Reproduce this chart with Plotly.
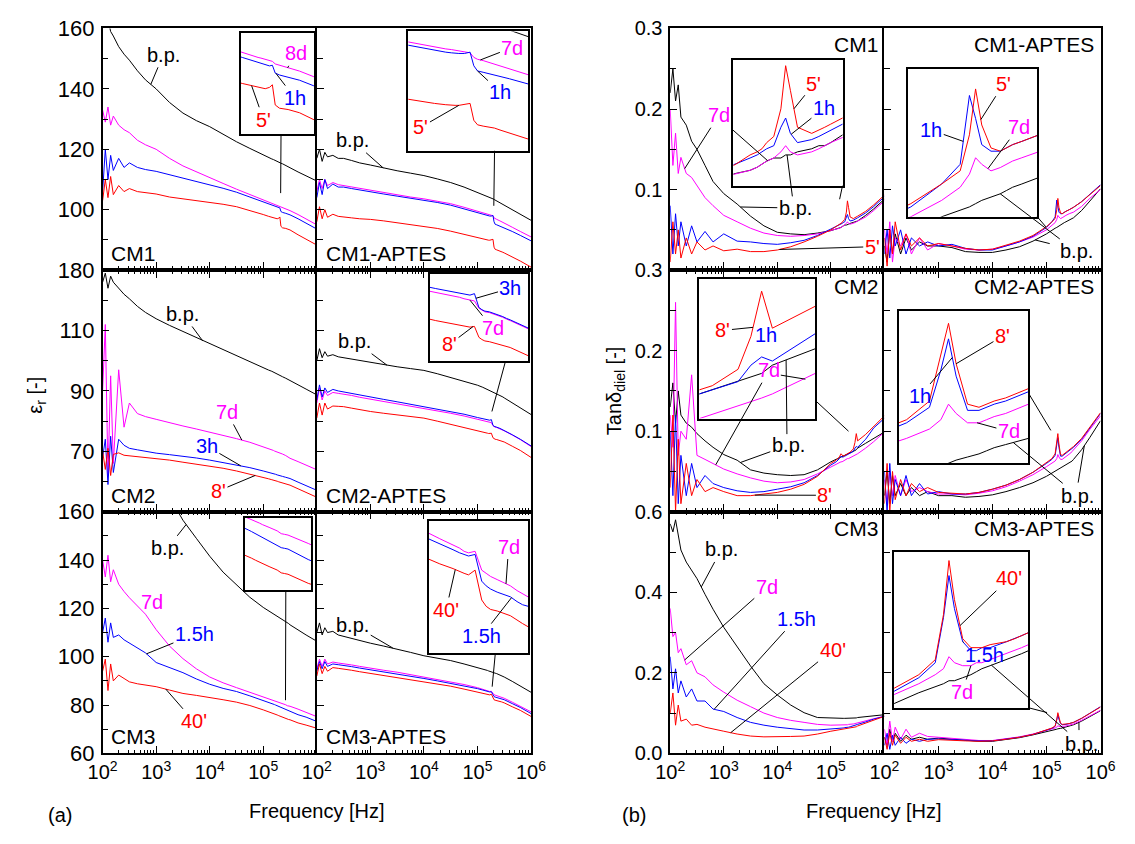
import numpy as np
import plotly.graph_objects as go

W, H = 1135, 844

# ---------------- data (log10 of frequency in Hz) ----------------
LOGF = [2.0, 2.05, 2.1, 2.15, 2.2, 2.3, 2.4, 2.5, 2.65, 2.8, 3.0, 3.25, 3.5, 3.75, 4.0, 4.25, 4.5, 4.75,
        5.0, 5.1, 5.16, 5.19, 5.21, 5.23, 5.26, 5.29, 5.31, 5.33, 5.36, 5.42, 5.45, 5.475, 5.5, 5.65, 5.8, 6.0]
FREQ = [10 ** v for v in LOGF]

# (a) permittivity
A1_BP = [163, 161, 163, 159, 157.5, 154, 151.5, 149.5, 146, 143, 140, 135.5, 132, 129.5, 127.5, 125, 122.5, 120.3, 118, 117.2, 116.8, 116.6, 116.4, 116.3, 116.0, 115.8, 115.6, 115.4, 115.2, 114.7, 114.4, 114.2, 113.9, 112.5, 111.2, 109.5]
A1_8D = [133, 129, 134, 128, 131, 128, 126.5, 125.5, 123, 121.5, 120, 117, 114.5, 112.5, 110.6, 108.7, 106.8, 105, 103.2, 102.5, 102.1, 101.9, 101.8, 101.7, 101.5, 101.3, 101.2, 100.8, 100.6, 100.2, 100.0, 99.85, 99.7, 98.4, 97, 95]
A1_1H = [106, 120, 110, 118, 113, 117, 114, 115.5, 114, 113.3, 112.7, 111.6, 110.6, 109.5, 108.4, 107.1, 105.8, 104.2, 102.5, 101.8, 101.4, 101.2, 101.0, 100.9, 100.7, 100.5, 100.6, 99.4, 99.1, 98.8, 98.6, 98.45, 98.3, 97, 95.6, 93.6]
A1_5M = [103, 110, 104, 111, 105, 108, 106, 107, 106, 105.6, 105.2, 104.2, 103.6, 103, 102.5, 101.8, 101, 99.8, 98.4, 97.8, 97.5, 97.3, 97.2, 97.1, 97.0, 97.2, 97.6, 94.5, 94.0, 93.8, 93.6, 93.45, 93.3, 91.7, 90.2, 88.3]

A2_BP = [117, 120, 116, 119, 117.5, 118, 117, 117, 116.3, 115.5, 114.8, 113.8, 112.9, 112.1, 111.3, 110.2, 109, 107.5, 105.8, 105.1, 104.6, 104.4, 104.2, 104.1, 103.8, 103.6, 103.4, 103.2, 103, 102.4, 102.1, 101.85, 101.6, 100, 98.5, 96.5]
A2_7D = [106, 110, 107, 110, 108, 109, 108.3, 108, 107.5, 107, 106.4, 105.6, 104.9, 104.2, 103.6, 102.9, 102, 100.8, 99.4, 98.9, 98.6, 98.5, 98.4, 98.3, 98.2, 98.0, 97.3, 97.0, 96.8, 96.3, 96.0, 95.8, 95.6, 94.2, 92.8, 91]
A2_1H = [104, 109, 105, 110, 107, 108.5, 107.5, 107.5, 107, 106.5, 106, 105.2, 104.5, 103.8, 103.2, 102.4, 101.5, 100.3, 98.9, 98.4, 98.1, 98.0, 97.9, 97.9, 97.9, 98.1, 96.0, 95.2, 95.0, 94.6, 94.35, 94.15, 94.0, 92.8, 91.5, 89.7]
A2_5M = [96, 101, 97, 100, 97.5, 98.5, 97.8, 97.7, 97.3, 97, 96.8, 96.3, 95.7, 95.1, 94.5, 93.8, 92.9, 91.8, 90.6, 90.2, 90.0, 89.9, 89.9, 89.9, 90.0, 90.2, 87.6, 86.9, 86.7, 86.4, 86.1, 85.9, 85.7, 84.4, 83, 81]

A3_BP = [126, 129, 124, 128, 126, 124, 122, 120.5, 118, 116, 113.9, 111.7, 109.7, 107.5, 105.5, 103.5, 101.6, 99.7, 97.7, 96.9, 96.5, 96.2, 96.0, 95.9, 95.6, 95.3, 95.1, 95.0, 94.7, 94.2, 93.9, 93.7, 93.5, 92, 90.6, 88.7]
A3_7D = [90, 112, 62, 95, 66, 97, 78, 86, 82.5, 81.5, 80.6, 79.4, 78.4, 77.4, 76.4, 75.3, 74.2, 73, 71.6, 71, 70.5, 70.3, 70.1, 70, 69.8, 69.6, 69.5, 69.3, 69.1, 68.6, 68.3, 68.0, 67.7, 66.6, 65.5, 63.9]
A3_3H = [68, 74, 59, 75, 63, 74, 72, 71, 70.5, 70, 69.4, 68.9, 68.4, 67.8, 67.1, 66.3, 65.5, 64.6, 63.5, 63.1, 62.8, 62.6, 62.5, 62.4, 62.2, 62.1, 62.0, 61.9, 61.7, 61.4, 61.25, 61.1, 61.0, 59.8, 58.7, 57.1]
A3_8M = [70, 64, 71, 62, 69, 69.5, 68.7, 68.5, 68.2, 68, 67.7, 67.1, 66.4, 65.8, 65.2, 64.4, 63.5, 62.5, 61.3, 60.9, 60.6, 60.5, 60.4, 60.3, 60.1, 59.9, 59.8, 59.7, 59.5, 59.2, 59.05, 58.9, 58.8, 57.6, 56.4, 54.8]

A4_BP = [100, 104, 101, 103, 101.5, 102, 101.3, 101, 100.5, 100, 99.4, 98.7, 98, 97.4, 96.8, 95.7, 94.5, 93.3, 91.9, 91.2, 90.7, 90.5, 90.3, 90.2, 90.0, 89.8, 89.6, 89.4, 89.2, 88.6, 88.3, 88.0, 87.7, 86.1, 84.6, 82.2]
A4_7D = [86, 91, 87, 90, 88.5, 89.5, 89.2, 89, 88.5, 87.9, 87.3, 86.5, 85.8, 85, 84.2, 83.4, 82.6, 81.7, 80.7, 80.3, 80.0, 79.8, 79.7, 79.6, 79.5, 78.5, 78.2, 78.0, 77.9, 77.5, 77.25, 77.0, 76.8, 75.4, 73.9, 71.6]
A4_3H = [87, 92, 88, 91, 89.5, 90.5, 90, 89.7, 89.2, 88.6, 88, 87.2, 86.4, 85.6, 84.8, 84, 83.2, 82.3, 81.2, 80.8, 80.5, 80.4, 80.3, 80.3, 80.5, 78.6, 78.3, 78.1, 78.0, 77.6, 77.35, 77.1, 76.9, 75.5, 74, 71.8]
A4_8M = [81, 86, 82, 86, 84, 85, 84.9, 84.8, 84.3, 83.8, 83.2, 82.6, 82, 81.5, 81, 80, 79, 78, 76.8, 76.4, 76.2, 76.0, 75.9, 75.9, 76.0, 74.5, 74.2, 74.0, 73.9, 73.6, 73.4, 73.25, 73.1, 71.7, 70.3, 68]

A5_BP = [None, None, None, None, None, None, None, None, None, None, None, 166, 156.5, 149, 141.6, 135, 129.6, 124.6, 120.4, 119, 118.2, 117.8, 117.5, 117.2, 116.8, 116.4, 116.1, 115.9, 115.5, 114.7, 114.2, 113.7, 113.2, 111, 109, 106.4]
A5_7D = [140, 133, 142, 131, 136, 130, 127, 124.4, 121, 117.6, 111.2, 104.4, 99.2, 95, 91.6, 89.2, 87.2, 85.3, 83.6, 82.8, 82.3, 82.1, 81.9, 81.7, 81.5, 81.2, 81.0, 80.8, 80.6, 80.1, 79.7, 79.6, 79.5, 78.3, 77, 75.2]
A5_15H = [110, 116, 106, 114, 108, 109, 107, 105.6, 103.5, 101.6, 97.6, 95.5, 93.4, 90.8, 88.6, 86.9, 85.6, 83.8, 82, 81.2, 80.7, 80.4, 80.2, 80, 79.7, 79.4, 79.2, 79, 78.7, 78.1, 77.7, 77.6, 77.5, 76, 75, 73.2]
A5_40M = [94, 99, 86, 97, 90, 92.4, 91, 89.6, 88.8, 88.2, 87.6, 86.2, 84.8, 84, 83.2, 82.2, 81.2, 79.8, 78, 77.3, 76.8, 76.6, 76.4, 76.2, 75.9, 75.6, 75.4, 75.2, 75.0, 74.5, 74.1, 74.0, 73.9, 72.6, 71.7, 70.4]

A6_BP = [110, 114, 109, 112, 110, 110.5, 109, 108.4, 107.5, 106.6, 105.6, 104.4, 103.2, 101.8, 100.4, 99.4, 98.4, 97, 95.6, 94.9, 94.5, 94.3, 94.1, 94.0, 93.7, 93.5, 93.4, 93.2, 93.0, 92.5, 92.2, 91.9, 91.6, 89.8, 88, 85.3]
A6_7D = [95, 99, 96, 99, 97, 97.8, 97.4, 97.2, 96.6, 96, 95.2, 94.4, 93.6, 92.6, 91.6, 90.6, 89.6, 88.5, 87.2, 86.5, 86.1, 85.9, 85.7, 85.6, 85.7, 84.5, 84.3, 84.1, 83.9, 83.5, 83.2, 83.0, 82.8, 81.2, 79.6, 77.2]
A6_15H = [94, 98, 95, 98, 96, 97, 96.7, 96.5, 95.9, 95.3, 94.6, 93.8, 93, 92, 91, 90, 89, 87.9, 86.8, 86.2, 85.8, 85.6, 85.5, 85.4, 85.5, 83.8, 83.5, 83.3, 83.1, 82.8, 82.5, 82.3, 82.2, 80.6, 79, 76.5]
A6_40M = [92, 97, 93, 96, 94, 95.5, 95.2, 95, 94.4, 93.8, 93.1, 92.3, 91.5, 90.6, 89.7, 88.8, 87.8, 86.6, 85.5, 84.9, 84.6, 84.4, 84.3, 84.2, 84.5, 82.6, 82.2, 82.0, 81.9, 81.6, 81.3, 81.1, 80.9, 79.3, 77.8, 75.3]

# (b) loss tangent
B1_BP = [.22, .25, .21, .23, .19, .18, .16, .15, .13, .11, .095, .082, .067, .055, .047, .045, .044, .046, .049, .051, .052, .053, .054, .055, .056, .056, .057, .057, .058, .059, .060, .060, .061, .068, .076, .088]
B1_7D = [.20, .13, .17, .12, .14, .12, .115, .105, .09, .08, .068, .06, .052, .046, .043, .042, .043, .045, .049, .051, .052, .053, .054, .055, .056, .058, .060, .058, .057, .058, .059, .060, .061, .066, .074, .086]
B1_1H = [.08, .02, .07, .03, .06, .03, .055, .035, .048, .035, .045, .036, .035, .033, .032, .034, .037, .043, .051, .054, .056, .057, .058, .059, .060, .066, .069, .064, .061, .062, .063, .064, .065, .071, .079, .091]
B1_5M = [.01, .06, .02, .05, .015, .04, .02, .035, .025, .03, .024, .026, .023, .023, .025, .029, .035, .042, .050, .054, .057, .058, .059, .061, .063, .072, .086, .078, .066, .064, .065, .066, .067, .073, .081, .093]

B2_BP = [.03, .01, .05, .02, .045, .02, .04, .025, .035, .03, .03, .028, .023, .022, .022, .025, .029, .036, .045, .050, .052, .053, .054, .055, .056, .057, .058, .059, .060, .062, .063, .064, .065, .074, .085, .101]
B2_7D = [.05, .02, .06, .01, .04, .03, .045, .02, .04, .025, .033, .03, .026, .025, .026, .03, .035, .041, .050, .055, .059, .063, .068, .066, .064, .065, .066, .067, .068, .070, .071, .071, .072, .079, .089, .100]
B2_1H = [.02, .05, .015, .055, .03, .05, .02, .04, .03, .035, .03, .032, .027, .025, .025, .03, .035, .042, .053, .060, .066, .087, .080, .072, .070, .070, .071, .072, .073, .075, .076, .077, .078, .085, .094, .106]
B2_5M = [.04, .005, .05, .02, .06, .025, .045, .03, .04, .03, .033, .03, .027, .025, .026, .031, .036, .043, .054, .060, .064, .075, .089, .078, .071, .070, .071, .072, .073, .075, .076, .077, .078, .085, .094, .105]

B3_BP = [.13, .16, .11, .15, .12, .11, .105, .097, .088, .08, .071, .064, .052, .048, .046, .045, .046, .052, .062, .065, .067, .068, .068, .069, .070, .071, .072, .072, .073, .075, .076, .077, .079, .085, .091, .099]
B3_7D = [.12, .08, .26, .07, .10, .09, .17, .07, .065, .06, .053, .047, .042, .038, .036, .037, .04, .047, .056, .059, .061, .062, .062, .063, .064, .065, .066, .066, .067, .069, .070, .071, .072, .079, .087, .099]
B3_1H = [.10, .02, .12, .01, .07, .02, .06, .03, .045, .035, .03, .026, .024, .025, .028, .031, .036, .045, .058, .062, .066, .069, .068, .068, .069, .070, .071, .072, .073, .075, .079, .081, .080, .090, .104, .116]
B3_8M = [.03, .12, .0, .09, .01, .06, .02, .04, .025, .03, .025, .02, .02, .022, .024, .028, .034, .044, .060, .064, .068, .072, .070, .069, .070, .071, .072, .073, .074, .078, .086, .097, .088, .096, .106, .119]

B4_BP = [.02, .05, .01, .045, .02, .035, .02, .03, .02, .025, .02, .02, .018, .019, .021, .025, .03, .036, .044, .048, .050, .051, .052, .053, .054, .055, .056, .057, .058, .060, .062, .063, .065, .077, .092, .113]
B4_7D = [.04, .01, .05, .02, .045, .02, .04, .025, .03, .025, .022, .022, .021, .023, .026, .031, .038, .046, .056, .060, .063, .066, .071, .068, .065, .065, .066, .067, .068, .071, .073, .075, .077, .088, .102, .119]
B4_1H = [.05, .0, .06, .01, .04, .02, .045, .02, .035, .022, .025, .022, .022, .024, .028, .033, .040, .049, .060, .065, .070, .082, .092, .080, .069, .069, .070, .071, .072, .075, .077, .078, .080, .090, .104, .122]
B4_8M = [.01, .06, .0, .05, .015, .04, .02, .035, .025, .03, .024, .023, .022, .024, .028, .033, .040, .049, .061, .066, .072, .087, .097, .084, .071, .070, .071, .072, .073, .076, .078, .079, .081, .091, .105, .123]

B5_BP = [.57, .55, .58, .54, .505, .475, .455, .434, .395, .358, .313, .265, .217, .173, .145, .12, .101, .089, .087, .087, .087, .087, .087, .087, .087, .087, .087, .087, .088, .088, .088, .088, .089, .091, .093, .096]
B5_7D = [.36, .29, .30, .25, .26, .22, .23, .20, .19, .17, .152, .132, .116, .10, .089, .082, .077, .072, .070, .070, .070, .070, .070, .070, .071, .071, .071, .072, .072, .073, .074, .075, .076, .081, .086, .092]
B5_15H = [.24, .16, .21, .15, .18, .14, .16, .13, .13, .11, .104, .089, .077, .07, .065, .061, .058, .058, .060, .061, .062, .062, .063, .063, .064, .064, .065, .065, .066, .068, .069, .070, .072, .078, .085, .092]
B5_40M = [.10, .15, .07, .12, .08, .085, .07, .072, .065, .06, .055, .048, .043, .041, .041, .042, .043, .048, .055, .057, .058, .059, .059, .060, .060, .061, .061, .062, .062, .064, .065, .066, .068, .075, .083, .092]

B6_BP = [.04, .02, .06, .03, .05, .03, .045, .035, .04, .035, .038, .035, .032, .03, .03, .034, .039, .046, .053, .057, .059, .060, .061, .061, .062, .063, .064, .065, .066, .068, .069, .070, .071, .080, .091, .106]
B6_7D = [.06, .02, .08, .03, .065, .035, .06, .04, .05, .042, .04, .037, .034, .032, .032, .036, .041, .048, .056, .060, .063, .065, .069, .067, .066, .066, .067, .067, .068, .070, .071, .072, .073, .082, .093, .107]
B6_15H = [.02, .05, .01, .045, .02, .04, .025, .035, .03, .035, .036, .034, .032, .031, .031, .035, .040, .047, .057, .062, .067, .082, .096, .085, .074, .071, .071, .072, .072, .074, .075, .076, .077, .087, .099, .116]
B6_40M = [.04, .01, .05, .02, .045, .025, .04, .03, .035, .03, .034, .032, .031, .03, .031, .035, .040, .047, .058, .063, .068, .083, .101, .088, .075, .072, .072, .072, .073, .074, .075, .076, .077, .087, .099, .115]

X_MAJOR = [1e2, 1e3, 1e4, 1e5, 1e6]
X_MAJOR_TEXT = ["10<sup>2</sup>", "10<sup>3</sup>", "10<sup>4</sup>", "10<sup>5</sup>", "10<sup>6</sup>"]
X_MINOR = [k * 10 ** d for d in range(2, 6) for k in range(2, 10)]

# ---------------- layout geometry (pixels) ----------------
COLORS = ["#000000", "#FF00FF", "#0000FF", "#FF0000"]
COLS = {"L1": (90, 310), "L2": (310, 530), "R1": (673, 893), "R2": (893, 1115)}
ROWS = {"T": (17, 266), "M": (266, 515), "B": (515, 764)}

YCFG = {
    ("A", "T"): dict(r=[80, 160], tv=[100, 120, 140, 160], tt=["100", "120", "140", "160"], mv=[90, 110, 130, 150]),
    ("A", "M"): dict(r=[50, 130], tv=[70, 90, 110, 130], tt=["70", "90", "110", "180"], mv=[60, 80, 100, 120]),
    ("A", "B"): dict(r=[60, 160], tv=[60, 80, 100, 120, 140, 160], tt=["60", "80", "100", "120", "140", "160"], mv=[70, 90, 110, 130, 150]),
    ("B", "T"): dict(r=[0, 0.3], tv=[0.1, 0.2, 0.3], tt=["0.1", "0.2", "0.3"], mv=[0.05, 0.15, 0.25]),
    ("B", "M"): dict(r=[0, 0.3], tv=[0.1, 0.2, 0.3], tt=["0.1", "0.2", "0.3"], mv=[0.05, 0.15, 0.25]),
    ("B", "B"): dict(r=[0, 0.6], tv=[0.0, 0.2, 0.4, 0.6], tt=["0.0", "0.2", "0.4", "0.6"], mv=[0.1, 0.3, 0.5]),
}

PANELS = [
    ("A1", "L1", "T", "CM1", [A1_BP, A1_8D, A1_1H, A1_5M]),
    ("A2", "L2", "T", "CM1-APTES", [A2_BP, A2_7D, A2_1H, A2_5M]),
    ("A3", "L1", "M", "CM2", [A3_BP, A3_7D, A3_3H, A3_8M]),
    ("A4", "L2", "M", "CM2-APTES", [A4_BP, A4_7D, A4_3H, A4_8M]),
    ("A5", "L1", "B", "CM3", [A5_BP, A5_7D, A5_15H, A5_40M]),
    ("A6", "L2", "B", "CM3-APTES", [A6_BP, A6_7D, A6_15H, A6_40M]),
    ("B1", "R1", "T", "CM1", [B1_BP, B1_7D, B1_1H, B1_5M]),
    ("B2", "R2", "T", "CM1-APTES", [B2_BP, B2_7D, B2_1H, B2_5M]),
    ("B3", "R1", "M", "CM2", [B3_BP, B3_7D, B3_1H, B3_8M]),
    ("B4", "R2", "M", "CM2-APTES", [B4_BP, B4_7D, B4_1H, B4_8M]),
    ("B5", "R1", "B", "CM3", [B5_BP, B5_7D, B5_15H, B5_40M]),
    ("B6", "R2", "B", "CM3-APTES", [B6_BP, B6_7D, B6_15H, B6_40M]),
]

# insets: panel, pixel box (x0, x1, y0, y1), log-x range, y range, connector anchors (inset fx,fy -> box fx,fy)
INSETS = [
    ("A1", (232, 307, 22, 126), (5.09, 5.6), (90.0, 105.5), (0.55, 1.0, 0.46, 0.0)),
    ("A2", (404, 527, 20, 143), (4.96, 5.6), (82.9, 101.3), (0.72, 1.0, 0.54, 0.0)),
    ("A4", (426, 527, 270, 360), (4.96, 5.62), (71.2, 83.2), (0.77, 1.0, 0.47, 0.0)),
    ("A5", (236, 304, 521, 596), (5.18, 5.67), (71.6, 82.0), (0.62, 1.0, 0.48, 0.0)),
    ("A6", (425, 527, 525, 661), (5.05, 5.5), (79.2, 87.6), (0.67, 1.0, 0.5, 0.0)),
    ("B1", (738, 850, 49, 179), (5.09, 5.55), (0.047, 0.088), (1.0, 1.0, 0.16, 0.0)),
    ("B2", (917, 1050, 59, 211), (4.99, 5.41), (0.050, 0.095), (1.0, 1.0, 0.0, 0.92)),
    ("B3", (703, 822, 275, 419), (5.33, 5.6), (0.066, 0.100), (1.0, 0.87, 0.0, 0.0)),
    ("B4", (908, 1041, 308, 465), (5.08, 5.42), (0.052, 0.101), (1.0, 0.54, 0.0, 0.0)),
    ("B6", (903, 1041, 556, 717), (5.01, 5.5), (0.052, 0.104), (1.0, 1.0, 0.0, 0.05)),
]

# labels: axis key, series index, head log-f, text pixel x, y, text
LABELS = [
    ("A1", 0, 2.9, 152, 45, "b.p."), ("A1i", 1, 5.417, 288, 43, "8d"), ("A1i", 2, 5.335, 287, 88, "1h"),
    ("A1i", 3, 5.165, 255, 110, "5'"),
    ("A2", 0, 3.24, 347, 133, "b.p."), ("A2i", 1, 5.345, 510, 37, "7d"), ("A2i", 2, 5.33, 498, 82, "1h"),
    ("A2i", 3, 5.23, 418, 118, "5'"),
    ("A3", 0, 3.87, 173, 312, "b.p."), ("A3", 1, 4.6, 218, 413, "7d"), ("A3", 2, 4.58, 198, 448, "3h"),
    ("A3", 3, 4.85, 210, 493, "8'"),
    ("A4", 0, 3.31, 350, 340, "b.p."), ("A4i", 2, 5.27, 508, 285, "3h"), ("A4i", 1, 5.23, 490, 325, "7d"),
    ("A4i", 3, 5.25, 447, 342, "8'"),
    ("A5", 0, 3.56, 157, 552, "b.p."), ("A5", 1, 2.73, 140, 608, "7d"), ("A5", 2, 2.82, 183, 642, "1.5h"),
    ("A5", 3, 3.18, 183, 730, "40'"),
    ("A6", 0, 3.42, 348, 632, "b.p."), ("A6i", 1, 5.40, 507, 552, "7d"), ("A6i", 3, 5.17, 443, 615, "40'"),
    ("A6i", 2, 5.425, 480, 642, "1.5h"),
    ("B1", 0, 3.31, 800, 202, "b.p."), ("B1i", 0, 5.316, 800, 202, "b.p."), ("B1", 1, 2.27, 722, 108, "7d"),
    ("B1i", 1, 5.234, 722, 108, "7d"), ("B1i", 2, 5.333, 830, 100, "1h"), ("B1i", 3, 5.345, 820, 75, "5'"),
    ("B1", 3, 4.04, 878, 242, "5'"),
    ("B2i", 3, 5.227, 1015, 75, "5'"), ("B2i", 2, 5.17, 942, 122, "1h"), ("B2i", 1, 5.25, 1030, 120, "7d"),
    ("B2i", 0, 5.29, 1088, 245, "b.p."), ("B2", 0, 4.79, 1088, 245, "b.p."),
    ("B3", 0, 3.31, 793, 447, "b.p."), ("B3i", 0, 5.532, 793, 447, "b.p."), ("B3", 1, 2.85, 773, 372, "7d"),
    ("B3i", 1, 5.577, 773, 372, "7d"), ("B3i", 2, None, 785, 333, "1h"), ("B3i", 3, 5.455, 728, 328, "8'"),
    ("B3", 3, 3.58, 830, 498, "8'"),
    ("B4i", 3, 5.23, 1013, 335, "8'"), ("B4i", 2, 5.22, 930, 395, "1h"), ("B4i", 1, 5.285, 1020, 432, "7d"),
    ("B4i", 0, 5.38, 1090, 497, "b.p."), ("B4", 0, 5.7, 1090, 497, "b.p."),
    ("B5", 0, 2.58, 725, 555, "b.p."), ("B5", 1, 2.27, 770, 595, "7d"), ("B5", 2, 2.82, 800, 628, "1.5h"),
    ("B5", 3, 3.13, 837, 660, "40'"),
    ("B6i", 3, 5.25, 1020, 585, "40'"), ("B6i", 2, 5.26, 995, 662, "1.5h"), ("B6i", 1, 5.29, 973, 700, "7d"),
    ("B6i", 0, 5.365, 1093, 752, "b.p."), ("B6", 0, 5.6, 1093, 752, "b.p."),
]

FONT = "Liberation Sans, Arial, sans-serif"
FS = 20

fig = go.Figure()
layout = dict(width=W, height=H, margin=dict(l=0, r=0, t=0, b=0), paper_bgcolor="white",
              plot_bgcolor="white", showlegend=False, font=dict(family=FONT, size=FS, color="black"))
AX = {}
series_of = {}


def axname(n, kind):
    return f"{kind}axis" if n == 1 else f"{kind}axis{n}"


def ref(n, kind):
    return kind if n == 1 else f"{kind}{n}"


n = 0
for key, col, row, name, series in PANELS:
    n += 1
    x0, x1 = COLS[col]
    y0, y1 = ROWS[row]
    cfg = YCFG[(key[0], row)]
    series_of[key] = series
    left = col in ("L1", "R1")
    xtv = X_MAJOR[:4] if left else X_MAJOR
    xtt = X_MAJOR_TEXT[:4] if left else X_MAJOR_TEXT
    ytfs = 22 if key[0] == "A" else 20
    layout[axname(n, "x")] = dict(
        type="log", range=[2, 6], domain=[x0 / W, x1 / W], anchor=ref(n, "y"),
        showline=True, linecolor="black", linewidth=1.5, mirror=(True if row == "T" else "ticks"),
        ticks="inside", ticklen=8, tickwidth=1.3, tickcolor="black",
        tickmode="array", tickvals=xtv, ticktext=xtt, showticklabels=(row == "B"),
        minor=dict(tickmode="array", tickvals=X_MINOR, ticks="inside", ticklen=4, tickwidth=1, tickcolor="black"),
        showgrid=False, zeroline=False, tickfont=dict(size=FS, family=FONT, color="black"))
    layout[axname(n, "y")] = dict(
        range=cfg["r"], domain=[1 - y1 / H, 1 - y0 / H], anchor=ref(n, "x"),
        showline=True, linecolor="black", linewidth=1.5, mirror=(not left),
        ticks="inside", ticklen=7, tickwidth=1.3, tickcolor="black",
        tickmode="array", tickvals=cfg["tv"], ticktext=cfg["tt"], showticklabels=left,
        minor=dict(tickmode="array", tickvals=cfg["mv"], ticks="inside", ticklen=6, tickwidth=1, tickcolor="black"),
        showgrid=False, zeroline=False, tickfont=dict(size=ytfs, family=FONT, color="black"), ticklabelstandoff=2)
    AX[key] = dict(n=n, box=(x0, x1, y0, y1), xr=(2, 6), yr=tuple(cfg["r"]))
    for s, c in zip(series, COLORS):
        fig.add_trace(go.Scatter(x=FREQ, y=s, mode="lines", line=dict(color=c, width=1),
                                 xaxis=ref(n, "x"), yaxis=ref(n, "y"), hoverinfo="skip"))

shapes = []
for key, box, xr, yr, conn in INSETS:
    n += 1
    x0, x1, y0, y1 = box
    main = AX[key]
    layout[axname(n, "x")] = dict(type="log", range=list(xr), domain=[x0 / W, x1 / W], anchor=ref(n, "y"),
                                  showline=True, linecolor="black", linewidth=2, mirror=True, ticks="",
                                  showticklabels=False, showgrid=False, zeroline=False)
    layout[axname(n, "y")] = dict(range=list(yr), domain=[1 - y1 / H, 1 - y0 / H], anchor=ref(n, "x"),
                                  showline=True, linecolor="black", linewidth=2, mirror=True, ticks="",
                                  showticklabels=False, showgrid=False, zeroline=False)
    AX[key + "i"] = dict(n=n, box=box, xr=xr, yr=yr)
    series_of[key + "i"] = series_of[key]
    for s, c in zip(series_of[key], COLORS):
        fig.add_trace(go.Scatter(x=FREQ, y=s, mode="lines", line=dict(color=c, width=1),
                                 xaxis=ref(n, "x"), yaxis=ref(n, "y"), hoverinfo="skip"))
    # zoom box in the main panel
    mn = main["n"]
    shapes.append(dict(type="rect", xref=ref(mn, "x"), yref=ref(mn, "y"), x0=xr[0], x1=xr[1], y0=yr[0], y1=yr[1],
                       line=dict(color="black", width=1), layer="above"))
    # connector line
    mx0, mx1, my0, my1 = main["box"]
    bx0 = mx0 + (xr[0] - 2) / 4 * (mx1 - mx0)
    bx1 = mx0 + (xr[1] - 2) / 4 * (mx1 - mx0)
    r0, r1 = main["yr"]
    by0 = my1 - (yr[1] - r0) / (r1 - r0) * (my1 - my0)
    by1 = my1 - (yr[0] - r0) / (r1 - r0) * (my1 - my0)
    ifx, ify, bfx, bfy = conn
    p0 = (x0 + ifx * (x1 - x0), y0 + ify * (y1 - y0))
    p1 = (bx0 + bfx * (bx1 - bx0), by0 + bfy * (by1 - by0))
    shapes.append(dict(type="line", xref="paper", yref="paper", x0=p0[0] / W, y0=1 - p0[1] / H,
                       x1=p1[0] / W, y1=1 - p1[1] / H, line=dict(color="black", width=1)))


def to_px(key, lf, v):
    a = AX[key]
    x0, x1, y0, y1 = a["box"]
    px = x0 + (lf - a["xr"][0]) / (a["xr"][1] - a["xr"][0]) * (x1 - x0)
    py = y1 - (v - a["yr"][0]) / (a["yr"][1] - a["yr"][0]) * (y1 - y0)
    return px, py


def edge_point(tx, ty, hx, hy, hw, hh):
    """point where the segment text-centre -> head leaves the text box"""
    dx, dy = hx - tx, hy - ty
    t = min(hw / abs(dx) if dx else 1e9, hh / abs(dy) if dy else 1e9)
    t = min(t, 1.0)
    return tx + dx * t, ty + dy * t


annotations = []
seen = set()
for key, si, lf, tx, ty, text in LABELS:
    color = COLORS[si]
    if lf is None:
        annotations.append(dict(xref="paper", yref="paper", x=tx / W, y=1 - ty / H, text=text, showarrow=False,
                                font=dict(size=FS, color=color, family=FONT)))
        continue
    s = series_of[key][si]
    pts = [(f, v) for f, v in zip(LOGF, s) if v is not None]
    v = float(np.interp(lf, [p[0] for p in pts], [p[1] for p in pts]))
    px, py = to_px(key, lf, v)
    nn = AX[key]["n"]
    if (tx, ty, text) in seen:
        # second leader of a label already written: line only, from the text box edge
        hw = 0.29 * FS * len(text) + 2
        hh = 0.6 * FS
        ex, ey = edge_point(tx, ty, px, py, hw, hh)
        shapes.append(dict(type="line", xref="paper", yref="paper", x0=ex / W, y0=1 - ey / H,
                           x1=px / W, y1=1 - py / H, line=dict(color="black", width=1)))
        continue
    seen.add((tx, ty, text))
    annotations.append(dict(x=lf, y=v, xref=ref(nn, "x"), yref=ref(nn, "y"), ax=tx - px, ay=ty - py,
                            axref="pixel", ayref="pixel", text=text, showarrow=True, arrowhead=0,
                            arrowwidth=1, arrowcolor="black", standoff=0, startstandoff=0,
                            font=dict(size=FS, color=color, family=FONT)))

# panel names
for key, col, row, name, series in PANELS:
    x0, x1 = COLS[col]
    y0, y1 = ROWS[row]
    if key[0] == "A":
        annotations.append(dict(xref="paper", yref="paper", x=(x0 + 7) / W, y=1 - (y1 - 17) / H, text=name,
                                showarrow=False, xanchor="left", yanchor="middle",
                                font=dict(size=21, family=FONT, color="black")))
    else:
        annotations.append(dict(xref="paper", yref="paper", x=(x1 - 5) / W, y=1 - (y0 + 17) / H, text=name,
                                showarrow=False, xanchor="right", yanchor="middle",
                                font=dict(size=21, family=FONT, color="black")))

for txt, x, y, rot in [("ε<sub>r</sub> [-]", 22, 395, -90), ("Tanδ<sub>diel</sub> [-]", 617, 390, -90),
                       ("Frequency [Hz]", 310, 823, 0), ("Frequency [Hz]", 882, 823, 0),
                       ("(a)", 46, 828, 0), ("(b)", 636, 828, 0)]:
    annotations.append(dict(xref="paper", yref="paper", x=x / W, y=1 - y / H, text=txt, showarrow=False,
                            textangle=rot, xanchor="center", yanchor="middle",
                            font=dict(size=FS, family=FONT, color="black")))

layout["shapes"] = shapes
layout["annotations"] = annotations
fig.update_layout(**layout)
fig.write_html("out.html")
